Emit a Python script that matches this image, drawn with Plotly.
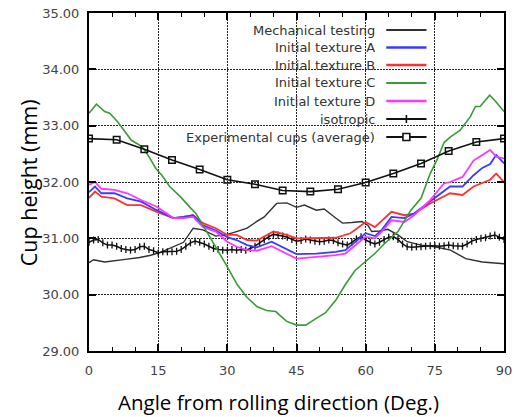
import plotly.graph_objects as go

# ---- data: cup height (mm) vs. angle from rolling direction (deg) ----
mech_x = [0, 1, 3.4, 6, 8.3, 11, 13.4, 15.5, 17.7, 20.5, 22.6, 24.7, 27.5, 30, 32, 34.3,
          36.4, 38, 40.7, 42.9, 45, 46.7, 49.3, 51, 53.5, 55, 57, 59.2, 60.5, 61.3, 63,
          64.8, 67, 69, 72, 75, 78.4, 81.7, 85.3, 87, 90]
mech_y = [30.57, 30.62, 30.58, 30.60, 30.63, 30.66, 30.70, 30.75, 30.83, 30.93, 31.18,
          31.15, 31.04, 31.07, 31.12, 31.18, 31.30, 31.38, 31.62, 31.63, 31.55, 31.59,
          31.50, 31.52, 31.36, 31.27, 31.28, 31.30, 31.23, 31.12, 31.13, 31.16, 31.06,
          30.94, 30.88, 30.85, 30.79, 30.64, 30.58, 30.57, 30.55]

tex_a_x = [0, 1.3, 2.7, 5.5, 8.3, 11.3, 14.7, 18.3, 20.5, 22.6, 24.7, 27.5, 30, 32, 34.3,
           36.4, 39.6, 42.9, 45, 49.3, 53.5, 55.6, 57.7, 60, 62, 63.5, 65.6, 68.4, 70.5,
           74, 78.3, 81, 83.4, 85.3, 87, 88.3, 90]
tex_a_y = [31.82, 31.92, 31.80, 31.80, 31.71, 31.65, 31.50, 31.36, 31.38, 31.41, 31.23,
           31.14, 31.02, 30.97, 30.88, 30.84, 30.94, 30.80, 30.72, 30.73, 30.76, 30.79,
           30.94, 31.09, 31.04, 31.15, 31.38, 31.36, 31.44, 31.65, 31.92, 31.92, 32.12,
           32.25, 32.32, 32.48, 32.33]

tex_b_x = [0, 1.3, 2.7, 5.5, 8.3, 11.3, 14.7, 18.3, 20.5, 22.6, 24.7, 27.5, 30, 32, 34.3,
           36.4, 40, 42.9, 45, 49.3, 53.5, 56.7, 59, 60, 62, 64, 65.6, 68.4, 70.5, 74,
           78.3, 81, 83.4, 87, 88.3, 90]
tex_b_y = [31.72, 31.83, 31.74, 31.71, 31.59, 31.59, 31.47, 31.36, 31.38, 31.41, 31.27,
           31.18, 31.06, 31.06, 30.97, 30.96, 31.12, 31.06, 31.00, 31.00, 31.01, 31.09,
           31.23, 31.29, 31.20, 31.35, 31.47, 31.41, 31.44, 31.62, 31.80, 31.77, 31.92,
           32.04, 32.15, 32.00]

tex_c_x = [0, 1.6, 3.4, 4.5, 6.2, 8.1, 9.2, 11.5, 13, 14.5, 15.8, 17.5, 19.8, 22, 23.2,
           25.3, 27.5, 29.6, 32.2, 34.3, 36.4, 38.5, 40.5, 42.8, 45, 47, 49.1, 51.3, 53.5,
           55.6, 57.7, 60, 62, 64, 67, 69.8, 72, 74, 75.5, 77, 78.4, 80.5, 82.7, 83.8,
           84.8, 86.9, 88.3, 90]
tex_c_y = [33.22, 33.38, 33.25, 33.22, 33.07, 32.86, 32.74, 32.63, 32.45, 32.24, 32.12,
           31.92, 31.74, 31.54, 31.44, 31.15, 30.85, 30.55, 30.17, 29.95, 29.79, 29.72,
           29.70, 29.53, 29.46, 29.46, 29.57, 29.68, 29.90, 30.18, 30.43, 30.60, 30.73,
           30.90, 31.12, 31.50, 31.71, 32.15, 32.40, 32.70, 32.80, 32.92, 33.16, 33.34,
           33.34, 33.54, 33.42, 33.25]

tex_d_x = [0, 1.3, 2.7, 5.5, 8.3, 11.3, 14.7, 18.3, 20.5, 22.6, 24.7, 27.5, 30, 32, 34.3,
           36.4, 39.6, 42.9, 45, 49.3, 53.5, 55.6, 57.7, 60, 62, 63.5, 65.6, 68.4, 70.5,
           74, 76.9, 78.3, 81, 83.4, 84.7, 87, 88.3, 90]
tex_d_y = [31.95, 32.00, 31.88, 31.86, 31.80, 31.68, 31.56, 31.36, 31.36, 31.38, 31.20,
           31.12, 30.94, 30.85, 30.79, 30.78, 30.86, 30.72, 30.64, 30.67, 30.70, 30.73,
           30.88, 31.03, 31.00, 31.12, 31.32, 31.29, 31.41, 31.68, 31.97, 32.00, 32.09,
           32.38, 32.45, 32.57, 32.45, 32.42]

iso_x = list(range(0, 91))
iso_y = [30.93, 30.97, 30.98, 30.92, 30.88, 30.88, 30.86, 30.82, 30.80, 30.79,
         30.80, 30.85, 30.86, 30.80, 30.78, 30.74, 30.76, 30.76, 30.76, 30.77,
         30.80, 30.86, 30.92, 30.95, 30.93, 30.90, 30.86, 30.82, 30.80, 30.79,
         30.79, 30.80, 30.79, 30.80, 30.79, 30.82, 30.86, 30.92, 30.98, 31.03,
         31.07, 31.06, 31.04, 31.02, 30.98, 30.95, 30.96, 30.99, 30.97, 30.95,
         30.94, 30.95, 30.97, 30.96, 30.92, 30.90, 30.88, 30.93, 30.99, 31.03,
         30.97, 30.93, 30.90, 30.93, 30.98, 31.02, 31.03, 30.98, 30.90, 30.85,
         30.84, 30.85, 30.85, 30.86, 30.87, 30.87, 30.86, 30.87, 30.88, 30.87,
         30.86, 30.86, 30.90, 30.95, 30.98, 31.00, 31.01, 31.04, 31.06, 31.02,
         30.98]

exp_x = [0, 6, 12, 18, 24, 30, 36, 42, 48, 54, 60, 66, 72, 78, 84, 90]
exp_y = [32.77, 32.75, 32.58, 32.39, 32.22, 32.04, 31.96, 31.85, 31.83, 31.87, 31.99,
         32.15, 32.33, 32.55, 32.71, 32.77]

series_names = ["Mechanical testing", "Initial texture A", "Initial texture B",
                "Initial texture C", "Initial texture D", "isotropic",
                "Experimental cups (average)"]

y_ticks = [29, 30, 31, 32, 33, 34, 35]
x_ticks = [0, 15, 30, 45, 60, 75, 90]

# ---- styles ----
BLUE, RED, GREEN, MAGENTA = "#3a3aff", "#ff3030", "#3a9a3a", "#ff38ff"
DARK = "#303030"
BLACK = "#111111"
styles = [
    dict(color=DARK, width=1.4, marker=None, key=None),
    dict(color=BLUE, width=1.8, marker=None, key=None),
    dict(color=RED, width=1.8, marker=None, key=None),
    dict(color=GREEN, width=1.6, marker=None, key=None),
    dict(color=MAGENTA, width=1.8, marker=None, key=None),
    dict(color=BLACK, width=1.5, key="plus",
         marker=dict(symbol="line-ns", size=5, color=BLACK,
                     line=dict(color=BLACK, width=1.3))),
    dict(color=BLACK, width=1.6, key="square",
         marker=dict(symbol="square-open", size=6.5, color=BLACK,
                     line=dict(color=BLACK, width=1.5))),
]

data_xy = [(mech_x, mech_y), (tex_a_x, tex_a_y), (tex_b_x, tex_b_y),
           (tex_c_x, tex_c_y), (tex_d_x, tex_d_y), (iso_x, iso_y), (exp_x, exp_y)]

fig = go.Figure()

# figure geometry (pixels)
W, H = 517, 417
ML, MR, MT, MB = 89, 5, 13, 66
PW, PH = W - ML - MR, H - MT - MB

# draw order: mechanical, isotropic, textures, experimental on top
order = [0, 5, 2, 1, 4, 3, 6]
for i in order:
    st = styles[i]
    xs, ys = data_xy[i]
    tr = dict(x=xs, y=ys, name=series_names[i], showlegend=False,
              line=dict(color=st["color"], width=st["width"]), hoverinfo="skip")
    if st["marker"] is not None:
        tr["mode"] = "lines+markers"
        tr["marker"] = st["marker"]
    else:
        tr["mode"] = "lines"
    fig.add_trace(go.Scatter(**tr))


def px_to_paper_x(px):
    return (px - ML) / PW


def px_to_paper_y(py):
    return 1 - (py - MT) / PH


# ---- key: text right-aligned, sample line on the right (paper-space shapes) ----
row_y = [30, 47.5, 65, 83, 101, 119, 137]
text_right = 382
samp_x0, samp_x1 = 392, 433
samp_mid = (samp_x0 + samp_x1) / 2
annotations = []
shapes = [dict(type="rect", xref="paper", yref="paper", layer="between",
               x0=px_to_paper_x(161), x1=px_to_paper_x(439),
               y0=px_to_paper_y(145), y1=1, fillcolor="white",
               line=dict(width=0))]
for i, name in enumerate(series_names):
    ry = row_y[i]
    st = styles[i]
    shapes.append(dict(type="line", xref="paper", yref="paper", layer="above",
                       x0=px_to_paper_x(samp_x0), x1=px_to_paper_x(samp_x1),
                       y0=px_to_paper_y(ry), y1=px_to_paper_y(ry),
                       line=dict(color=st["color"], width=st["width"] + 0.5)))
    if st["key"] == "plus":
        shapes.append(dict(type="line", xref="paper", yref="paper", layer="above",
                           x0=px_to_paper_x(samp_mid), x1=px_to_paper_x(samp_mid),
                           y0=px_to_paper_y(ry - 4), y1=px_to_paper_y(ry + 4),
                           line=dict(color=BLACK, width=1.6)))
    elif st["key"] == "square":
        shapes.append(dict(type="rect", xref="paper", yref="paper", layer="above",
                           x0=px_to_paper_x(samp_mid - 3.5),
                           x1=px_to_paper_x(samp_mid + 3.5),
                           y0=px_to_paper_y(ry + 3.5), y1=px_to_paper_y(ry - 3.5),
                           fillcolor="white", line=dict(color=BLACK, width=1.6)))
    annotations.append(dict(
        x=px_to_paper_x(text_right), y=px_to_paper_y(ry), xref="paper", yref="paper",
        text=name, showarrow=False, xanchor="right", yanchor="middle",
        borderpad=0, font=dict(family="DejaVu Sans", size=13, color="#333333")))

# axis titles
annotations.append(dict(
    x=px_to_paper_x(282), y=px_to_paper_y(402), xref="paper", yref="paper",
    xanchor="center", yanchor="middle",
    text="Angle from rolling direction (Deg.)", showarrow=False,
    font=dict(family="Open Sans", size=20.5, color="#000000")))
annotations.append(dict(
    x=px_to_paper_x(27), y=px_to_paper_y(183), xref="paper", yref="paper",
    xanchor="center", yanchor="middle",
    text="Cup height (mm)", textangle=-90, showarrow=False,
    font=dict(family="Open Sans", size=21.5, color="#000000")))

GRID = "#262626"
TICKFONT = dict(family="DejaVu Sans", size=13, color="#444444")

fig.update_layout(
    width=W, height=H,
    margin=dict(l=ML, r=MR, t=MT, b=MB, pad=0),
    paper_bgcolor="white", plot_bgcolor="white",
    showlegend=False,
    annotations=annotations,
    shapes=shapes,
    xaxis=dict(range=[0, 90], tickvals=x_ticks, ticktext=[str(v) for v in x_ticks],
               showgrid=True, gridcolor=GRID, gridwidth=1.2, griddash="2px,1px",
               zeroline=False, showline=True, linecolor="#000000", linewidth=2,
               mirror="allticks", ticks="inside", ticklen=7, tickcolor="#000000",
               tickwidth=1.5, tickfont=TICKFONT, ticklabelstandoff=6,
               ticklabeloverflow="allow",
               minor=dict(dtick=5, tick0=0, ticks="inside", ticklen=4,
                          tickcolor="#000000", tickwidth=1.2, showgrid=False)),
    yaxis=dict(range=[29, 35], tickvals=y_ticks,
               ticktext=[f"{v:.2f}" for v in y_ticks],
               showgrid=True, gridcolor=GRID, gridwidth=1.2, griddash="2px,1px",
               zeroline=False, showline=True, linecolor="#000000", linewidth=2,
               mirror="allticks", ticks="inside", ticklen=7, tickcolor="#000000",
               tickwidth=1.5, tickfont=TICKFONT, ticklabelstandoff=5,
               ticklabeloverflow="allow"),
)

fig.write_html("out.html")
